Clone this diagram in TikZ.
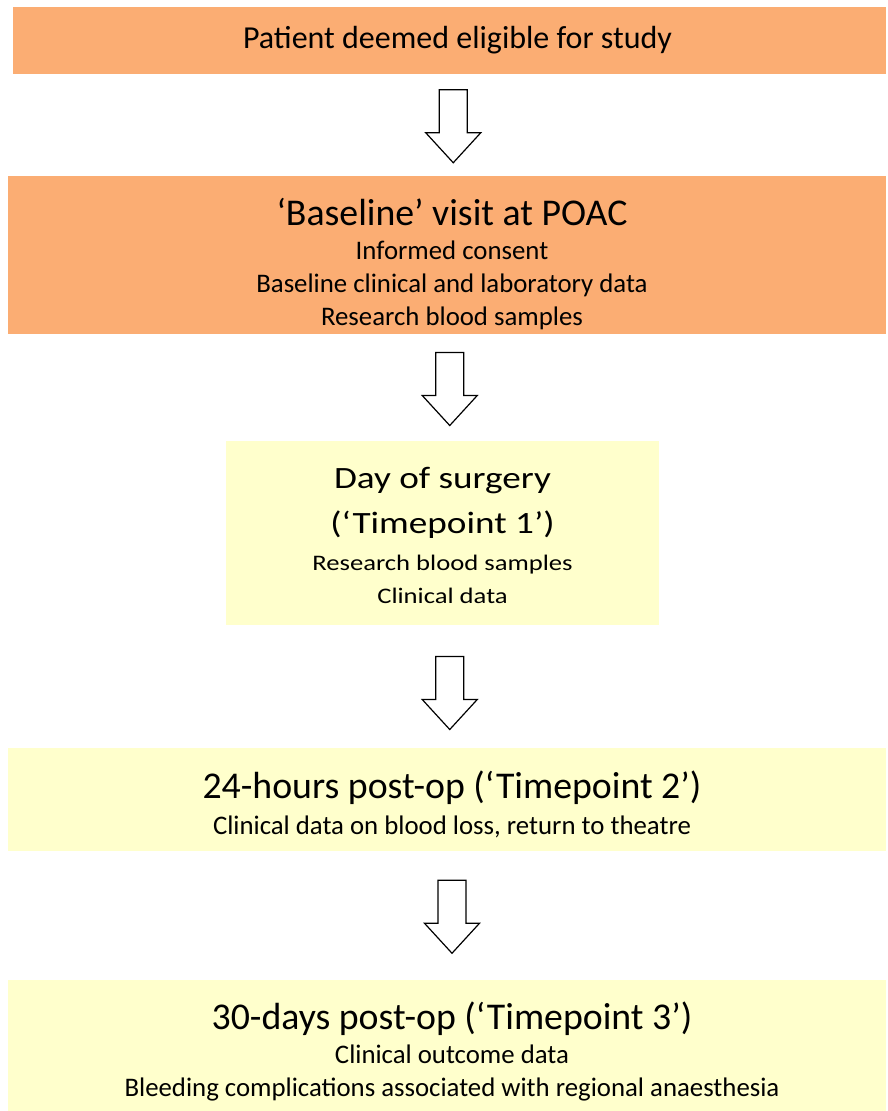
\documentclass[tikz,border=0pt]{standalone}
\usepackage{fontspec}
\setmainfont{Carlito}
\newfontfamily\widefont[FakeStretch=1.2]{Carlito}
\usetikzlibrary{calc}
\definecolor{boxorange}{HTML}{FBAD73}
\definecolor{boxyellow}{HTML}{FFFFCC}

% hollow block arrow in the gap between two nodes (optional: shift down)
\newcommand{\flowarrow}[3][0]{%
  \path ($(#2.south)!0.5!(#3.north)$) coordinate (#2-mid);
  \draw[hollowarrow] ($(#2-mid)+(-9,{-36+#1})$) -- ++(28,0) -- ++(0,43) -- ++(13.5,0)
    -- ++(-27.5,30) -- ++(-27.5,-30) -- ++(13.5,0) -- cycle;}

\begin{document}
\begin{tikzpicture}[x=1pt,y=-1pt,
    stage/.style={rectangle,inner sep=0pt},
    stagetext/.style={inner sep=0pt,align=center,text=black,
      font=\fontsize{26.8}{33}\selectfont},
    hollowarrow/.style={draw=black,fill=white,line width=1.2pt,line join=miter}]
  \newcommand{\headline}{\fontsize{37.8}{40}\selectfont}
  \useasboundingbox (0,0) rectangle (888,1111);
  \fill[white] (0,0) rectangle (888,1111);

  % boxes
  \node[stage,fill=boxorange,minimum width=873,minimum height=67] (eligible) at (449.5,40) {};
  \node[stage,fill=boxorange,minimum width=878,minimum height=158] (baseline) at (447,255) {};
  \node[stage,fill=boxyellow,minimum width=433,minimum height=184] (surgery) at (442.5,533) {};
  \node[stage,fill=boxyellow,minimum width=878,minimum height=103] (postop24) at (447,799.5) {};
  \node[stage,fill=boxyellow,minimum width=878,minimum height=131] (postop30) at (447,1045) {};

  % texts
  \node[stagetext,font=\fontsize{32}{36}\selectfont] (eligible-text) at ($(eligible)+(8,0)$)
    {Patient deemed eligible for study};
  \node[stagetext] (baseline-text) at ($(baseline)+(5,9)$)
    {{\headline ‘Baseline’ visit at POAC}\\[1pt]
     Informed consent\\ Baseline clinical and laboratory data\\ Research blood samples};
  \node[stagetext,font=\widefont\fontsize{22.2}{33}\selectfont] (surgery-text) at ($(surgery)+(0,2)$)
    {{\fontsize{31}{40}\selectfont Day of surgery}\\[12pt]
     {\fontsize{31}{40}\selectfont (‘Timepoint 1’)}\\[4pt]
     Research blood samples\\ Clinical data};
  \node[stagetext] (postop24-text) at ($(postop24)+(5,5)$)
    {{\headline 24-hours post-op (‘Timepoint 2’)}\\[3pt]
     Clinical data on blood loss, return to theatre};
  \node[stagetext] (postop30-text) at ($(postop30)+(5,6)$)
    {{\headline 30-days post-op (‘Timepoint 3’)}\\[1pt]
     Clinical outcome data\\ Bleeding complications associated with regional anaesthesia};

  \flowarrow[1]{eligible}{baseline}
  \flowarrow[1]{baseline}{surgery}
  \flowarrow[6]{surgery}{postop24}
  \flowarrow[1]{postop24}{postop30}
\end{tikzpicture}
\end{document}
